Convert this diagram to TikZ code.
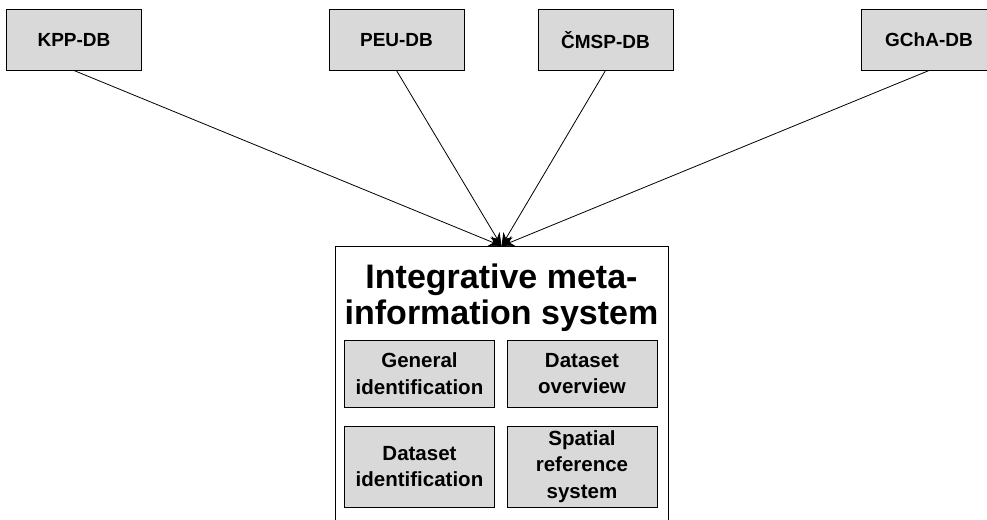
\documentclass[tikz,border=0pt]{standalone}
\usepackage{fontspec}
\setsansfont{Liberation Sans}
\usetikzlibrary{arrows.meta}

\begin{document}
\begin{tikzpicture}[x=1pt, y=-1pt, >={Stealth[length=13pt,width=11pt]},
        db/.style={draw, fill=gray!30, line width=1pt, minimum width=135pt, minimum height=60pt,
            font=\sffamily\bfseries\fontsize{19}{22}\selectfont},
        part/.style={draw, fill=gray!30, line width=1pt, minimum width=150pt, align=center,
            font=\sffamily\bfseries\fontsize{20.5}{26.5}\selectfont}]
        \useasboundingbox (0,0) rectangle (987,519);
        \clip (0,0) rectangle (987,519);
        % source databases
        \node[db] (kpp) at (74,40) {KPP-DB};
        \node[db] (peu) at (396.5,40) {PEU-DB};
        \node[db] (cmsp) at (605.5,40) {ČMSP-DB};
        \node[db] (gcha) at (929,40) {GChA-DB};
        % meta-information system
        \node[draw, line width=.8pt, minimum width=333pt, minimum height=300pt, anchor=north] (mis) at (501.5,246) {};
        \node[align=center, font=\sffamily\bfseries\fontsize{34}{36}\selectfont] (title) at (501.5,298) {Integrative meta-\\information system};
        \node[part, minimum height=67pt] (gen) at (419.5,373.5) {General\\identification};
        \node[part, minimum height=67pt] (ovr) at (582,373.5) {Dataset\\overview};
        \node[part, minimum height=81pt] (dsid) at (419.5,466.5) {Dataset\\identification};
        \node[part, minimum height=81pt] (srs) at (582,466.5) {Spatial\\reference\\system};
        \foreach \src in {kpp,peu,cmsp,gcha}
        {
            \draw[->, line width=.8pt] (\src.south) -- (mis.north);
        }
\end{tikzpicture}
\end{document}
